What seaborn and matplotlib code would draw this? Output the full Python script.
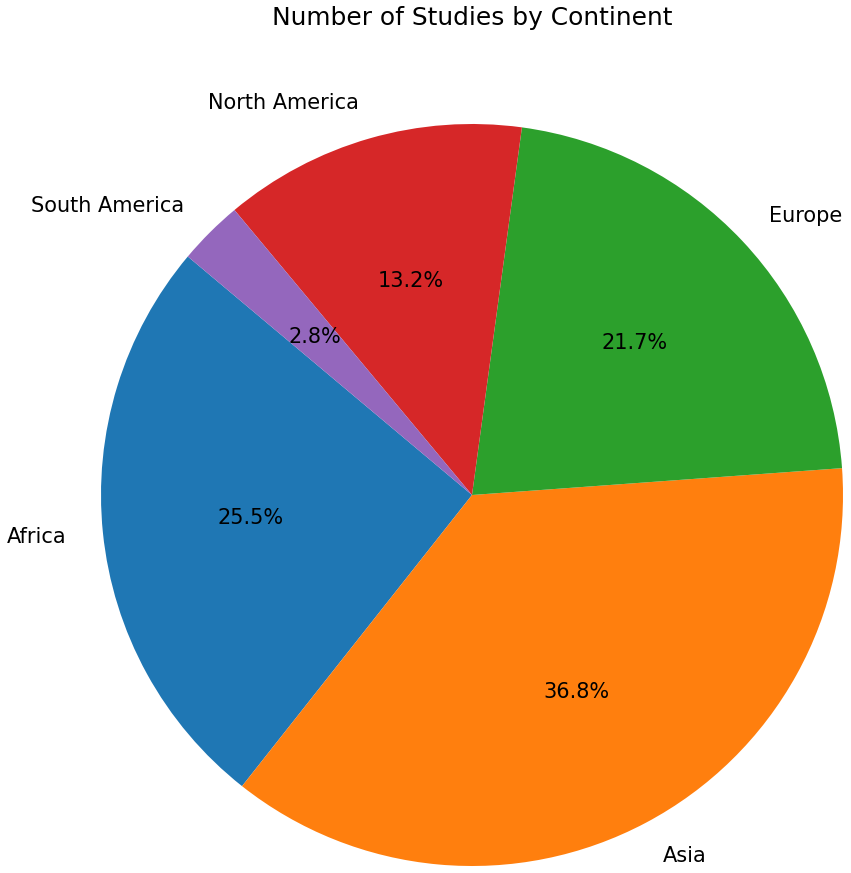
import matplotlib
matplotlib.use("Agg")
import matplotlib.pyplot as plt
import seaborn as sns

continents = ["Africa", "Asia", "Europe", "North America", "South America"]
counts = [27, 39, 23, 14, 3]
title = "Number of Studies by Continent"

sns.set_theme(style="white")
plt.rcParams['font.family'] = ['DejaVu Sans']
plt.rcParams['text.color'] = 'black'
colors = sns.color_palette("tab10", len(continents))

W, H = 851, 873
fig = plt.figure(figsize=(W / 100, H / 100), dpi=100)
r = 371
cx, cy = 472, 495
ax = fig.add_axes([(cx - r) / W, (H - cy - r) / H, 2 * r / W, 2 * r / H])
ax.pie(counts, labels=continents, autopct="%1.1f%%", startangle=140,
       colors=colors, textprops={"fontsize": 15, "color": "black"},
       wedgeprops={"linewidth": 0})
ax.set_xlim(-1, 1)
ax.set_ylim(-1, 1)
ax.set_aspect("equal")
fig.text(472 / W, 1 - 18 / H, title, ha="center", va="center", fontsize=17.9,
         color="black")
fig.savefig("out.png", dpi=100)
